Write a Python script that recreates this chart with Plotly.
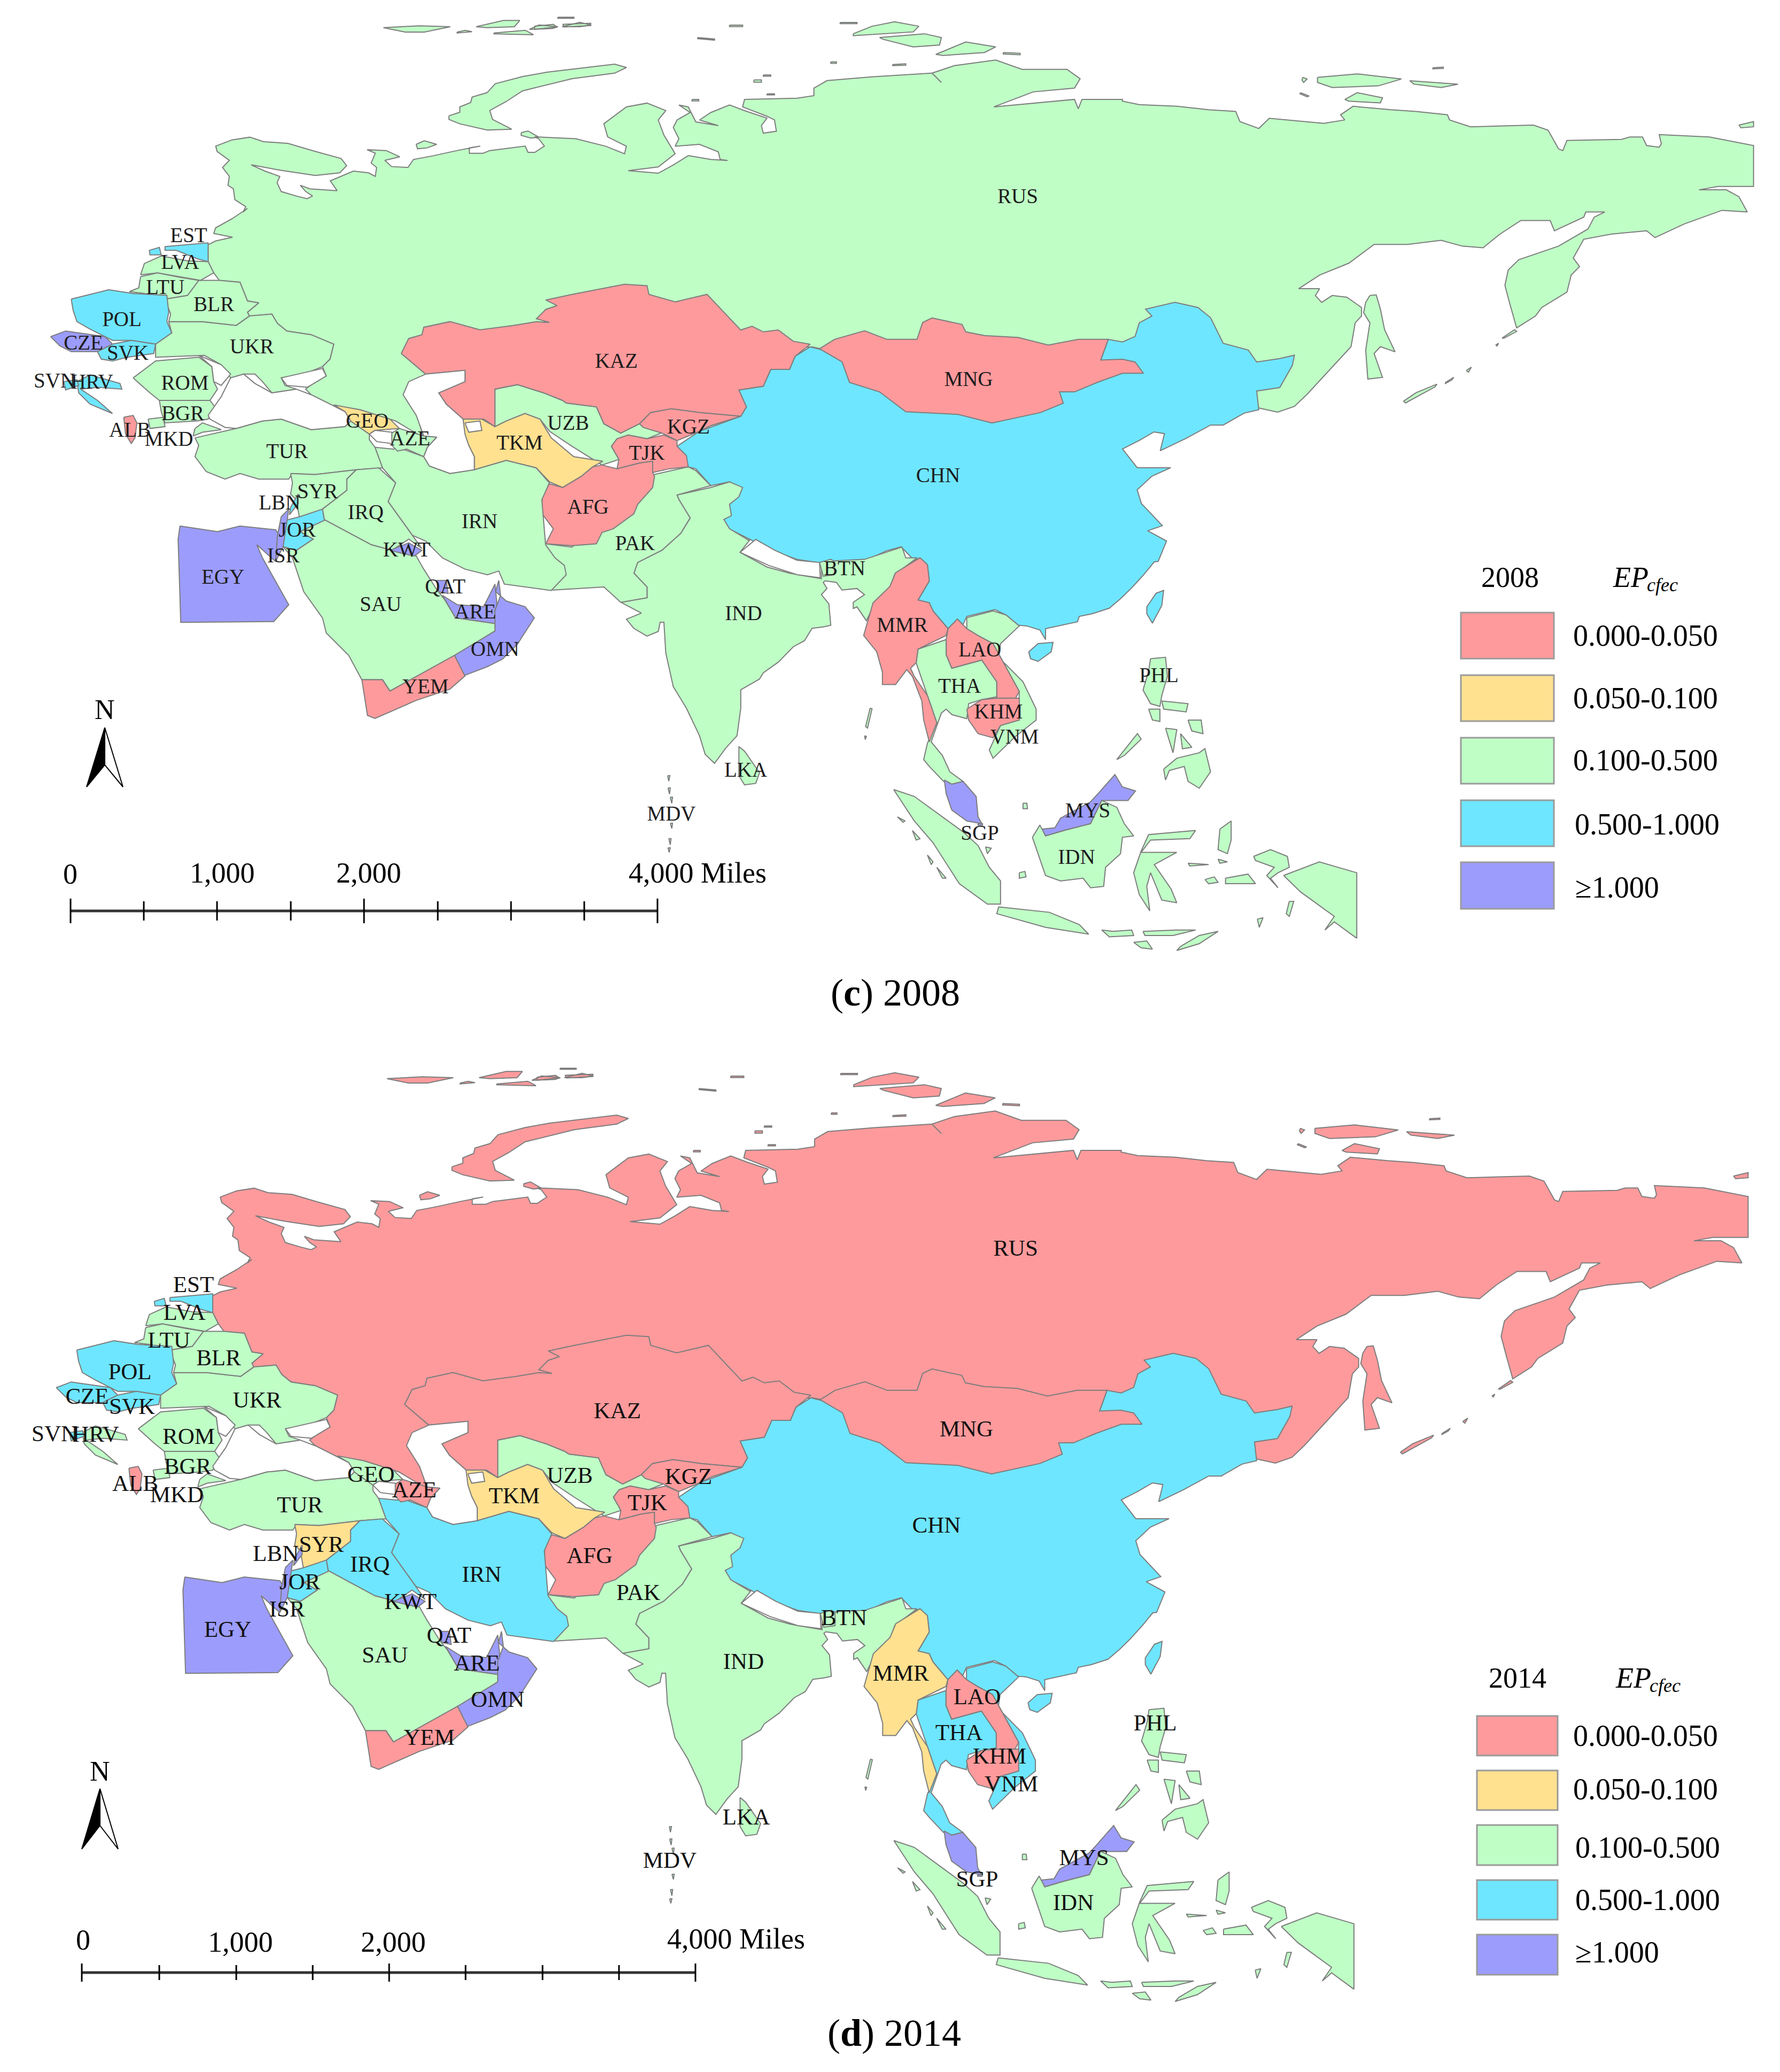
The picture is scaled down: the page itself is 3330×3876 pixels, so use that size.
import plotly.graph_objects as go

# crops the outlines were read from: left, top, x scale, y scale
W = (0, 300, .7015, .7015)
N = (1000, 0, .7015, .7015)
E = (2100, 100, .7844, .6378)
S = (1000, 900, .7015, .574)
A = (1500, 1000, .7015, .5102)
K = (350, 0, .5102, .3333)

def tr(view, *v):
    return [(view[0] + x * view[2], view[1] + y * view[3]) for x, y in zip(v[0::2], v[1::2])]

# class of each country, 0 lowest to 4 highest
CODES = ["RUS","CHN","IND","PAK","UZB","TKM","KAZ","KGZ","TJK","AFG","MNG","IRN","TUR","SYR","IRQ","SAU","EGY","JOR",
         "ISR","LBN","KWT","QAT","ARE","OMN","YEM","GEO","AZE","UKR","BLR","EST","LVA","LTU","POL","CZE","SVK","ROM",
         "BGR","MKD","ALB","HRV","SVN","THA","MMR","VNM","LAO","KHM","MYS","IDN","PHL","LKA","BTN","MDV","SGP"]
CLASS_2008 = [2,3,2,2,2,1,0,0,0,0,0,2,2,2,2,2,4,3,4,3,4,4,4,4,0,1,2,2,2,3,2,2,3,4,3,2,2,2,0,3,3,2,0,2,0,0,4,2,2,2,2,2,4]
CLASS_2014 = [0,3,2,2,2,1,0,0,0,0,0,3,2,1,3,2,4,3,4,4,4,4,4,4,0,2,0,2,2,3,2,2,3,3,3,2,2,2,0,2,3,3,1,3,0,0,4,2,2,2,2,2,4]

LABEL_X_2008 = [1904,1755,1391,1188,1063,972,1153,1288,1210,1100,1812,897,537,594,684,712,417,556,530,523,761,833,889,926,796,687,767,471,400,353,337,309,228,156,239,346,342,316,243,172,102,1795,1688,1898,1833,1868,2035,2014,2168,1395,1580,1256,1833]
LABEL_Y_2008 = [370,892,1150,1019,794,831,678,801,850,951,712,978,847,922,961,1133,1082,994,1042,943,1031,1100,1147,1217,1287,790,823,651,572,443,493,540,600,644,663,719,776,824,807,717,715,1286,1172,1381,1218,1334,1519,1606,1266,1443,1066,1525,1561]
LABEL_X_2014 = [1900,1752,1391,1194,1066,962,1155,1288,1211,1103,1808,901,561,601,692,720,426,561,537,516,768,840,892,931,803,694,775,481,409,362,345,316,243,163,247,353,351,331,253,179,102,1794,1685,1892,1828,1870,2028,2008,2161,1396,1579,1253,1828]
LABEL_Y_2014 = [2338,2856,3111,2982,2763,2801,2642,2765,2814,2913,2676,2948,2818,2892,2929,3099,3051,2962,3013,2909,2999,3062,3114,3182,3253,2761,2790,2622,2543,2406,2458,2510,2569,2615,2634,2690,2746,2799,2778,2686,2685,3244,3133,3340,3177,3288,3478,3562,3226,3402,3029,3483,3518]

LEGEND_LABELS = ["0.000-0.050", "0.050-0.100", "0.100-0.500", "0.500-1.000", "\u22651.000"]
COLORS = ["#FF9A9C", "#FFE190", "#BFFFC6", "#6EE6FF", "#9C9CFC"]

# legend boxes and texts, one list per panel
BOX_TOP_2008 = [1146, 1263, 1380, 1497, 1613]
BOX_BOTTOM_2008 = [1232, 1349, 1466, 1583, 1700]
TEXT_X_2008 = [2941, 2941, 2941, 2944, 2945]
TEXT_Y_2008 = [1189, 1306, 1422, 1542, 1660]
BOX_TOP_2014 = [3210, 3312, 3414, 3517, 3619]
BOX_BOTTOM_2014 = [3284, 3386, 3489, 3591, 3694]
TEXT_X_2014 = [2941, 2941, 2945, 2945, 2945]
TEXT_Y_2014 = [3247, 3347, 3456, 3554, 3652]

# scale bars, miles labels
SCALE_LABELS = ["0", "1,000", "2,000"]
SCALE_X_2008 = [131, 416, 690]
SCALE_Y_2008 = [1635, 1633, 1633]
SCALE_X_2014 = [155, 450, 736]
SCALE_Y_2014 = [3629, 3633, 3633]
TICKS_2008 = [132, 269, 406, 544, 681, 819, 956, 1093, 1230]
TICKS_2014 = [153, 298, 442, 585, 728, 871, 1015, 1158, 1301]

RUS_MAIN = (
    tr(E, 325,1040, 370,1052, 410,1035, 440,1000, 500,920, 545,860, 555,790, 570,770, 570,745, 535,715, 500,710, 475,730,
       460,710, 470,690, 420,690, 470,650, 540,615, 600,560, 680,560, 760,548, 810,565, 860,570, 880,550, 900,530, 950,490,
       1020,490, 1030,520, 1100,480, 1105,465, 1150,465, 1125,480, 1110,515, 1040,565, 945,605, 920,635, 912,680, 925,740,
       940,805, 985,770, 1000,745, 1060,700, 1070,650, 1090,625, 1075,600, 1100,545, 1165,530, 1250,520, 1270,540, 1340,500,
       1430,460, 1490,465, 1470,420, 1440,400, 1375,400, 1420,390, 1505,390, 1505,270, 1400,245, 1280,238, 1285,265, 1280,275,
       1250,270, 1240,245, 1210,245, 1190,252, 1060,255, 1050,285, 1040,280, 1015,225, 980,210, 830,215, 780,195, 775,180,
       700,170, 640,165, 550,155, 520,180, 530,195, 480,205, 350,190, 325,220, 280,200, 270,170, 205,165, 130,155, 40,150, 0,140)
    + tr(N, 1568,265, 1460,265, 1450,290, 1440,265, 1225,285, 1330,245, 1440,235, 1455,210, 1420,185, 1300,185, 1230,160,
         1120,175, 1060,195, 1085,220, 1060,195, 900,205, 780,215, 745,235, 745,255, 700,262, 560,265, 555,285, 620,310, 640,320,
         645,350, 610,355, 605,335, 620,315, 560,295, 520,280, 470,300, 440,320, 490,335, 430,325, 410,285, 385,280, 415,300,
         380,320, 370,340, 385,370, 375,390, 440,385, 490,405, 495,425, 515,428, 470,425, 410,415, 370,440, 330,462, 250,455,
         330,445, 375,410, 345,360, 330,320, 350,295, 300,275, 245,285, 185,330, 195,365, 245,390, 240,410, 190,390, 110,370, 0,365)
    + tr(K, 1290,780, 1310,820, 1275,855, 1250,855, 1240,820, 1110,845, 1085,860, 1035,860, 1035,830, 1075,820, 990,845, 900,875,
         830,895, 810,940, 750,935, 725,900, 780,880, 730,845, 660,840, 690,860, 675,915, 695,940, 690,990, 665,970, 610,960,
         525,1015, 550,1070, 450,1060, 415,1040, 435,1075, 460,1100, 440,1115, 400,1100, 345,1075, 330,1025, 340,990, 285,960,
         235,925, 340,955, 470,985, 560,970, 585,930, 565,890, 470,850, 370,805, 280,795, 230,770, 165,785, 105,820, 110,850,
         155,900, 130,940, 155,990, 150,1040, 170,1060, 175,1120, 215,1160, 205,1190)
    + tr(W, 660,128, 620,155, 575,180, 570,195, 620,205, 575,215, 555,225, 555,270, 570,300, 585,320, 640,325, 660,375, 690,380,
         660,405, 665,415, 725,410, 740,435, 765,455, 830,465, 890,490, 880,530, 860,550, 870,575, 840,590, 815,610, 830,625,
         890,655, 960,665, 1055,695, 1130,740, 1100,640, 1075,625, 1300,560)
    + tr(N, 200,950, 740,925, 1100,1000)
    + tr(E, 100,850, 200,900, 250,950, 300,1000)
)
RUS_NOVAYA = (
    tr(K, 960,650, 1000,630, 1000,600, 1040,575, 1045,545, 1100,520, 1130,470, 1230,430, 1320,405, 1568,360)
    + tr(N, 245,180, 214,195, 100,210, 0,235)
    + tr(K, 1230,510, 1170,570, 1110,620, 1120,670, 1190,725, 1100,730, 1000,695, 960,670)
)
RUS_ISLES = [
    RUS_NOVAYA,
    tr(K, 1225,745, 1250,735, 1290,770, 1260,775, 1225,760),
    tr(K, 840,810, 870,790, 915,810, 880,830, 845,835),
    tr(K, 720,155, 850,145, 965,150, 870,180, 800,180),
    tr(K, 990,180, 1020,170, 1045,178, 990,185),
    tr(K, 1060,150, 1160,115, 1220,115, 1200,150, 1100,155),
    tr(K, 1125,185, 1240,170, 1270,195, 1125,190),
    tr(K, 1255,165, 1290,140, 1360,150, 1340,160),
    tr(K, 1375,150, 1440,125, 1480,140, 1440,150),
    tr(N, 0,70, 50,65, 60,72, 0,78),
    tr(N, 75,65, 150,62, 150,68, 80,72),
    tr(N, 62,46, 105,46, 105,49, 62,49),
    tr(N, 520,67, 555,67, 555,71, 520,71),
    tr(N, 435,100, 480,104, 480,107, 435,103),
    tr(N, 850,90, 900,70, 960,58, 1025,70, 1010,85, 930,90, 850,95),
    tr(N, 920,100, 1040,90, 1085,100, 1080,120, 1010,125, 930,105),
    tr(N, 1070,145, 1150,112, 1230,125, 1200,140, 1090,148),
    tr(N, 1250,140, 1295,142, 1295,146, 1250,144),
    tr(N, 815,60, 860,60, 860,63, 815,63),
    tr(N, 790,165, 805,165, 805,169, 790,169),
    tr(N, 955,172, 990,170, 990,174, 955,175),
    tr(N, 585,213, 605,213, 605,219, 585,219),
    tr(N, 610,200, 630,200, 630,203, 610,203),
    tr(N, 620,250, 640,250, 640,253, 620,253),
    tr(N, 420,265, 438,265, 438,269, 420,269),
    tr(E, 430,70, 440,75, 432,85, 428,78),
    tr(E, 465,70, 560,60, 665,75, 610,95, 500,100, 465,85),
    tr(E, 685,80, 800,90, 760,100, 695,90),
    tr(E, 530,135, 560,115, 620,130, 615,145, 540,140),
    tr(E, 425,115, 445,125, 440,127, 423,118),
    tr(E, 740,42, 765,40, 765,44, 740,45),
    tr(E, 1470,210, 1505,200, 1505,215, 1475,218),
    tr(E, 590,710, 605,708, 615,750, 625,810, 650,875, 615,860, 600,880, 620,950, 585,955, 580,870, 590,790, 575,760, 580,730),
    tr(E, 905,835, 935,810, 940,815, 910,835),
    tr(E, 890,855, 897,850, 893,858),
    tr(E, 670,1020, 700,995, 750,970, 745,978, 675,1025),
    tr(E, 770,965, 790,950, 785,958, 770,968),
    tr(E, 820,930, 832,920, 825,935),
]

CHN_MAIN = (
    tr(N, 380,1190, 440,1150, 550,1110, 565,1085, 545,1040, 610,1030, 630,985, 680,985, 695,950, 735,925, 755,930, 1000,1000,
       1510,960, 1530,905, 1568,912)
    + tr(E, 30,830, 40,790, 70,770, 55,750, 125,730, 180,745, 210,775, 240,850, 300,870, 320,905, 375,895, 410,885, 405,915,
         375,980, 320,990, 325,1045, 290,1055, 240,1090, 210,1090, 150,1130, 90,1165, 100,1115, 75,1110, 40,1135, 0,1160,
         35,1215, 115,1215, 70,1240, 35,1280, 45,1320, 95,1385, 60,1400, 90,1420, 105,1430, 85,1490)
    + tr(A, 940,100, 910,150, 880,195, 850,235, 820,270, 775,290, 740,300, 735,320, 650,345, 650,385, 635,350, 600,335, 575,332,
         545,295, 515,275, 440,300, 430,330, 415,310, 390,345, 350,280, 340,250, 310,240, 340,170, 335,110, 315,85, 300,95,
         265,45, 225,60, 170,95, 100,115)
    + tr(S, 700,255, 620,220, 575,190, 510,150, 500,120, 520,85, 515,40, 550,35)
    + tr(N, 520,1285, 470,1295, 430,1250, 410,1245)
)
CHN_TAIWAN = tr(A, 920,265, 945,215, 965,205, 960,260, 935,325, 920,290)
CHN_HAINAN = tr(A, 605,430, 630,400, 670,395, 665,430, 630,465, 610,455)

KAZ_MAIN = (
    tr(W, 1070,515, 1090,475, 1125,465, 1130,445, 1200,430, 1280,452, 1370,440, 1430,430)
    + tr(N, 40,860, 5,850, 30,825, 60,815, 30,800, 100,785, 240,758, 300,762, 305,785, 375,805, 460,785, 550,880, 580,870, 610,885,
         650,880, 690,910, 735,918, 695,950, 680,985, 630,985, 610,1030, 545,1040, 565,1085, 550,1110, 440,1100, 365,1090, 310,1100,
         280,1130, 230,1155, 185,1130, 165,1085, 85,1075)
    + tr(W, 1500,640, 1450,620, 1380,598, 1320,610, 1320,710, 1290,690, 1235,690, 1190,650, 1170,620, 1240,590, 1240,560, 1135,570)
)
MNG_MAIN = (
    tr(N, 760,930, 800,905, 880,882, 940,905, 1020,905, 1035,860, 1060,848, 1140,865, 1150,885, 1200,895, 1290,900, 1370,920,
       1450,905, 1530,905, 1510,960, 1568,958)
    + tr(E, 30,905, 50,938, 0,938)
    + tr(N, 1500,1020, 1440,1045, 1400,1045, 1410,1075, 1350,1100, 1220,1128, 1130,1105, 990,1098, 920,1045, 840,1020, 820,965)
)
UZB_MAIN = (
    tr(W, 1320,610, 1380,598, 1450,620, 1500,640)
    + tr(N, 85,1075, 165,1085, 185,1130, 230,1155, 280,1130, 310,1125, 350,1150, 300,1170, 250,1160, 220,1170, 205,1190, 225,1225, 180,1240, 100,1190, 40,1150)
    + tr(W, 1440,690, 1400,675, 1350,695, 1320,710)
)
TKM_MAIN = (
    tr(W, 1235,690, 1285,690, 1320,710, 1350,695, 1400,675, 1440,690, 1470,740, 1530,790)
    + tr(N, 182,1230, 155,1245, 125,1270, 75,1300, 40,1285)
    + tr(W, 1430,820, 1350,800, 1265,825, 1265,790, 1250,760, 1235,740)
)
KGZ_MAIN = tr(N, 280,1130, 310,1100, 365,1090, 440,1100, 550,1110, 470,1135, 440,1150, 380,1175, 340,1155, 290,1140)
TJK_MAIN = tr(N, 205,1190, 220,1170, 250,1160, 300,1170, 345,1160, 380,1175, 380,1190, 405,1215, 410,1245, 360,1250, 315,1260, 315,1230, 280,1235, 220,1250, 225,1225)
AFG_MAIN = tr(N, 180,1240, 220,1250, 280,1235, 315,1230, 315,1260, 320,1270, 315,1300, 275,1345, 265,1370, 210,1410, 180,1420, 165,1450, 100,1455, 30,1450, 50,1410, 20,1370, 20,1320, 40,1290, 75,1300, 125,1270, 155,1245)
# runs on under Iran, which is painted later and gives the shared border
PAK_MAIN = (
    tr(N, 320,1265, 410,1245, 430,1255, 470,1295, 380,1320)
    + tr(S, 385,60, 415,120, 390,170, 340,225, 275,265, 265,300, 300,345, 300,380, 230,395, 185,345, 50,355)
    + tr(W, 1440,1140, 1400,1000)
    + tr(S, 35,205, 100,215, 200,100)
)
IND_MAIN = (
    tr(N, 380,1320, 470,1300, 520,1285, 555,1300, 545,1325, 520,1345, 525,1375, 505,1385, 520,1410, 570,1440)
    + tr(S, 575,190, 548,232, 620,280, 680,300, 765,318, 765,290, 800,260, 880,255, 980,215, 990,250, 1020,250, 960,305, 950,340, 915,400, 895,430,
         885,455, 860,410, 850,415, 850,395, 880,370, 860,350, 820,355, 805,330, 775,325, 770,330, 780,350, 765,370, 785,400, 790,470,
         770,475, 740,480, 720,520, 690,540, 650,590, 610,625, 600,645, 550,680, 550,740, 540,830, 510,870, 480,920, 455,890, 440,830,
         405,740, 370,670, 350,560, 345,460, 335,460, 330,490, 300,505, 265,480, 245,450, 285,430, 230,395, 300,380, 300,345, 265,300,
         275,265, 340,225, 390,170, 415,120, 385,60)
)
IND_ANDAMAN = tr(S, 895,740, 900,742, 888,805, 883,800)
IND_NICOBAR = tr(S, 880,830, 885,832, 882,842)
IRN_MAIN = tr(W, 1000,765, 1050,770, 1060,765, 1130,790, 1145,815, 1200,835, 1265,825, 1350,800, 1430,820, 1465,860, 1445,905, 1450,970, 1455,1025, 1480,1060, 1505,1080, 1510,1105, 1470,1147, 1345,1130, 1330,1095, 1300,1105, 1240,1090, 1180,1060, 1135,1015, 1100,1000, 1035,910, 1055,860, 1020,820)
TUR_MAIN = tr(W, 520,740, 600,722, 630,715, 700,695, 750,690, 830,718, 920,710, 935,695, 985,730, 985,745, 1000,765, 1020,820, 950,825, 840,838, 780,835, 770,850, 690,850, 640,835, 600,850, 550,830, 520,790, 530,760)
TUR_THRACE = tr(W, 520,715, 540,700, 590,718, 540,725, 515,735)
SYR_MAIN = tr(W, 775,835, 840,838, 950,825, 925,850, 925,880, 860,930, 800,960, 790,905, 775,890, 780,860)
IRQ_MAIN = tr(W, 860,930, 925,880, 925,850, 950,825, 1010,820, 1055,860, 1035,910, 1100,1000, 1125,1035, 1090,1010, 1045,1040, 990,1025, 865,958)
SAU_MAIN = tr(W, 865,958, 990,1025, 1045,1040, 1110,1055, 1130,1090, 1165,1145, 1185,1170, 1215,1220, 1320,1235, 1320,1255, 1215,1320, 1040,1415, 1020,1385, 965,1385, 930,1320, 870,1260, 860,1220, 810,1150, 780,1060, 755,1030, 790,1040, 835,1010, 800,990)
EGY_MAIN = tr(W, 480,975, 580,990, 640,975, 735,985, 745,1000, 735,1070, 685,1025, 700,1060, 770,1185, 730,1230, 482,1232, 475,1010)
JOR_MAIN = tr(W, 860,930, 865,960, 800,990, 835,1010, 790,1040, 755,1030, 760,960, 800,950)
ISR_MAIN = tr(W, 750,950, 770,930, 765,965, 755,1030, 735,1070, 740,1000)
LBN_MAIN = tr(W, 775,925, 795,890, 795,915, 772,945)
KWT_MAIN = tr(W, 1040,1040, 1090,1020, 1125,1040, 1105,1055, 1080,1050)
QAT_MAIN = tr(W, 1165,1120, 1190,1120, 1195,1155, 1170,1150)
ARE_MAIN = tr(W, 1180,1160, 1220,1185, 1290,1190, 1320,1130, 1325,1180, 1320,1235, 1215,1220)
OMN_MAIN = tr(W, 1330,1120, 1322,1150, 1350,1175, 1400,1190, 1425,1220, 1380,1290, 1340,1330, 1300,1350, 1235,1375, 1212,1320, 1320,1255, 1320,1200, 1335,1160)
YEM_MAIN = tr(W, 1212,1320, 1240,1375, 1200,1410, 1110,1440, 1000,1488, 980,1480, 965,1385, 1020,1385, 1040,1415)
GEO_MAIN = tr(W, 890,652, 960,665, 1040,690, 1065,715, 1000,720, 985,730, 935,695, 920,670)
AZE_MAIN = tr(W, 1040,730, 1065,715, 1130,735, 1165,738, 1140,765, 1130,790, 1085,770, 1060,775, 1045,760)
UKR_MAIN = tr(W, 450,430, 540,430, 630,440, 665,415, 725,410, 740,435, 765,455, 830,465, 890,490, 880,530, 860,550, 810,570, 750,580, 760,600, 790,610, 725,620, 700,590, 680,570, 650,570, 615,580, 590,545, 545,520, 415,525, 415,490, 458,460)
BLR_MAIN = tr(W, 440,370, 500,360, 530,320, 585,320, 640,325, 660,375, 690,380, 660,405, 665,415, 630,440, 540,430, 450,430, 455,410, 445,385)
EST_MAIN = tr(W, 440,230, 555,220, 555,270, 525,262, 470,240, 440,240)
EST_ISLE = tr(W, 398,240, 425,232, 430,252, 400,252)
LVA_MAIN = tr(W, 375,305, 385,275, 430,255, 500,268, 555,270, 570,300, 535,320, 480,310, 420,300)
LTU_MAIN = tr(W, 375,310, 420,300, 480,312, 530,320, 500,360, 440,370, 385,355, 345,350, 370,340)
POL_MAIN = tr(W, 190,370, 290,345, 355,355, 445,360, 450,405, 445,430, 458,460, 415,490, 350,480, 300,480, 240,450, 205,430, 195,400)
CZE_MAIN = tr(W, 135,470, 175,455, 280,470, 300,490, 260,510, 190,510, 160,495)
SVK_MAIN = tr(W, 260,510, 300,490, 350,480, 415,490, 410,515, 340,525, 300,535, 270,530)
ROM_MAIN = tr(W, 355,580, 415,535, 530,525, 565,550, 570,590, 580,610, 560,640, 445,640, 425,640, 400,620)
BGR_MAIN = tr(W, 425,640, 560,640, 575,660, 555,690, 525,695, 440,700, 430,670)
MKD_MAIN = tr(W, 395,690, 435,685, 440,710, 400,715)
ALB_MAIN = tr(W, 330,685, 355,680, 365,700, 360,740, 350,755, 335,730)
HRV_MAIN = tr(W, 205,590, 240,572, 320,595, 325,610, 260,605, 215,610, 260,640, 300,675, 240,650, 210,620)
SVN_MAIN = tr(W, 170,590, 205,585, 210,600, 175,612)
THA_MAIN = tr(A, 310,420, 305,470, 335,590, 360,690, 335,765, 325,825, 340,850, 378,905, 410,925, 430,905, 395,870, 375,810, 345,760, 372,655, 385,640, 400,660, 440,675, 445,620, 480,605, 520,595, 520,540, 480,460, 400,490, 385,440, 385,385)
MMR_MAIN = tr(A, 315,85, 335,110, 340,170, 310,240, 340,250, 350,280, 390,345, 385,370, 310,420, 305,470, 290,490, 300,520, 335,590, 360,690, 340,760, 325,680, 320,610, 295,520, 280,495, 250,550, 215,550, 215,505, 200,430, 165,370, 190,250, 235,190, 250,140)
VNM_MAIN = tr(A, 440,305, 510,280, 545,295, 580,335, 530,400, 525,450, 590,540, 625,640, 625,680, 570,740, 510,820, 500,790, 530,700, 578,680, 580,575, 530,450, 510,400, 470,370, 440,345)
LAO_MAIN = tr(A, 390,345, 415,310, 440,345, 470,370, 510,400, 530,450, 580,575, 570,600, 520,610, 520,540, 480,460, 400,490, 385,440, 385,385)
KHM_MAIN = tr(A, 440,640, 480,605, 520,600, 580,600, 580,680, 530,700, 510,745, 470,730, 445,680)
MYS_PENINSULA = tr(A, 380,900, 400,915, 430,905, 465,960, 470,1035, 480,1060, 440,1050, 400,1010, 385,950)
MYS_BORNEO = tr(A, 640,1080, 675,1075, 690,1040, 770,980, 790,950, 835,880, 855,925, 890,940, 870,975, 800,975, 770,1060, 700,1085, 650,1105)
IDN_ISLES = [
    tr(A, 615,1110, 635,1065, 650,1105, 700,1085, 770,1060, 800,975, 840,1000, 860,1060, 885,1105, 855,1110, 850,1170, 810,1220, 805,1290, 770,1295, 750,1260, 690,1270, 650,1250, 630,1170),
    tr(A, 245,935, 300,960, 380,1040, 430,1090, 470,1140, 500,1220, 530,1270, 530,1355, 495,1355, 420,1280, 350,1130, 300,1050),
    tr(A, 525,1365, 660,1385, 740,1430, 765,1465, 650,1440, 560,1405, 520,1390),
    tr(A, 905,1160, 925,1100, 1050,1085, 1035,1115, 930,1120, 905,1165, 1000,1165, 940,1210, 985,1300, 1000,1350, 960,1340, 930,1240, 920,1290, 928,1380, 900,1320, 885,1240),
    tr(A, 1285,1250, 1380,1200, 1480,1240, 1480,1480, 1420,1420, 1395,1450, 1420,1400, 1330,1310),
    tr(A, 1115,1080, 1145,1050, 1145,1120, 1135,1170, 1110,1155),
    tr(A, 1010,1510, 1060,1470, 1110,1455, 1060,1500, 1000,1525),
    tr(A, 910,1455, 1000,1450, 1050,1450, 990,1470, 915,1470),
    tr(A, 800,1450, 830,1455, 880,1450, 885,1470, 820,1475),
    tr(A, 885,1495, 920,1490, 935,1520, 905,1515),
    tr(A, 1130,1260, 1190,1245, 1210,1280, 1130,1280),
    tr(A, 1075,1265, 1100,1255, 1110,1275, 1085,1280),
    tr(A, 1205,1180, 1250,1155, 1295,1180, 1300,1220, 1270,1240, 1250,1260, 1270,1295, 1240,1250, 1260,1220, 1210,1195),
    tr(A, 295,1085, 315,1115, 305,1120),
    tr(A, 335,1175, 350,1200, 345,1210),
    tr(A, 360,1220, 385,1260, 375,1260),
    tr(A, 255,1035, 275,1050, 270,1055),
    tr(A, 580,1240, 595,1235, 598,1255, 580,1260),
    tr(A, 490,1145, 505,1150, 495,1170),
    tr(A, 590,985, 600,985, 602,1005, 590,1005),
    tr(A, 1300,1345, 1312,1345, 1300,1400, 1292,1390),
    tr(A, 1215,1410, 1230,1405, 1220,1440),
    tr(A, 1030,1205, 1085,1210, 1035,1215),
    tr(A, 1110,1190, 1135,1200, 1115,1205),
]
PHL_ISLES = [
    tr(A, 930,455, 970,450, 975,520, 960,590, 955,630, 930,620, 910,570, 925,500),
    tr(A, 925,640, 955,640, 955,685, 935,680),
    tr(A, 965,860, 1000,820, 1060,800, 1075,785, 1090,870, 1060,930, 1030,905, 1020,850, 980,865, 970,900),
    tr(A, 840,825, 895,730, 905,750, 860,810),
    tr(A, 970,710, 1000,715, 990,800, 975,730),
    tr(A, 1030,680, 1065,680, 1070,730, 1040,720),
    tr(A, 1010,730, 1040,780, 1015,785),
    tr(A, 960,610, 1030,620, 1025,650, 965,640),
]
LKA_MAIN = tr(S, 545,865, 560,880, 600,950, 590,985, 560,990, 545,960, 545,900)
BTN_MAIN = tr(S, 760,265, 790,255, 800,262, 800,305, 770,310)
MDV_ATOLLS = [
    tr(S, 355,960, 361,960, 358,978),
    tr(S, 356,1000, 362,1000, 360,1020),
    tr(S, 362,1030, 368,1030, 366,1050),
    tr(S, 362,1115, 368,1115, 366,1132),
    tr(S, 358,1165, 364,1165, 362,1185),
    tr(S, 356,1195, 362,1195, 359,1210),
]
SGP_MAIN = tr(A, 470,1060, 482,1060, 482,1066, 470,1066)

# seas and countries outside the study area, painted over everything else
GAP_CASPIAN = tr(W, 1135,570, 1240,560, 1240,590, 1170,620, 1190,650, 1235,690, 1240,730, 1250,760, 1265,790, 1265,825, 1200,835, 1145,815, 1130,790, 1140,765, 1165,738, 1130,735, 1110,680, 1075,625, 1090,590)
GAP_GARABOGAZ = tr(W, 1240,700, 1280,695, 1285,720, 1250,725)
GAP_BLACK = tr(W, 555,680, 590,630, 615,580, 650,570, 680,595, 725,620, 790,610, 830,625, 890,655, 920,670, 935,695, 920,710, 830,718, 750,690, 700,695, 630,715, 600,712, 560,690)
GAP_AZOV = tr(W, 750,580, 860,555, 870,575, 820,605, 765,600)
GAP_MOLDOVA = tr(W, 530,520, 590,545, 615,570, 590,600, 570,590, 565,550)
GAP_ARMENIA = tr(W, 985,730, 1000,720, 1045,725, 1045,755, 1005,750)
GAP_NEPAL = tr(S, 548,232, 590,190, 640,225, 700,258, 760,265, 762,315, 700,305, 625,275)

OUTLINES = {
    "RUS": [RUS_MAIN] + RUS_ISLES, "CHN": [CHN_MAIN, CHN_TAIWAN, CHN_HAINAN], "IND": [IND_MAIN, IND_ANDAMAN, IND_NICOBAR],
    "PAK": [PAK_MAIN], "UZB": [UZB_MAIN], "TKM": [TKM_MAIN], "KAZ": [KAZ_MAIN], "KGZ": [KGZ_MAIN], "TJK": [TJK_MAIN],
    "AFG": [AFG_MAIN], "MNG": [MNG_MAIN], "IRN": [IRN_MAIN], "TUR": [TUR_MAIN, TUR_THRACE], "SYR": [SYR_MAIN], "IRQ": [IRQ_MAIN],
    "SAU": [SAU_MAIN], "EGY": [EGY_MAIN], "JOR": [JOR_MAIN], "ISR": [ISR_MAIN], "LBN": [LBN_MAIN], "KWT": [KWT_MAIN], "QAT": [QAT_MAIN],
    "ARE": [ARE_MAIN], "OMN": [OMN_MAIN], "YEM": [YEM_MAIN], "GEO": [GEO_MAIN], "AZE": [AZE_MAIN], "UKR": [UKR_MAIN], "BLR": [BLR_MAIN],
    "EST": [EST_MAIN, EST_ISLE], "LVA": [LVA_MAIN], "LTU": [LTU_MAIN], "POL": [POL_MAIN], "CZE": [CZE_MAIN], "SVK": [SVK_MAIN],
    "ROM": [ROM_MAIN], "BGR": [BGR_MAIN], "MKD": [MKD_MAIN], "ALB": [ALB_MAIN], "HRV": [HRV_MAIN], "SVN": [SVN_MAIN], "THA": [THA_MAIN],
    "MMR": [MMR_MAIN], "VNM": [VNM_MAIN], "LAO": [LAO_MAIN], "KHM": [KHM_MAIN], "MYS": [MYS_PENINSULA, MYS_BORNEO], "IDN": IDN_ISLES,
    "PHL": PHL_ISLES, "LKA": [LKA_MAIN], "BTN": [BTN_MAIN], "MDV": MDV_ATOLLS, "SGP": [SGP_MAIN],
}
GAPS = [GAP_CASPIAN, GAP_GARABOGAZ, GAP_BLACK, GAP_AZOV, GAP_MOLDOVA, GAP_ARMENIA, GAP_NEPAL]

PAGE_W, PAGE_H = 3330, 3876
SPLIT = 1925  # page row where the second map starts
PAD = 8  # the page body margin pushes the plot this far right and down
SERIF = "Liberation Serif"
LINE = "#7d7d7d"


def rings(parts):
    xs, ys = [], []
    for part in parts:
        xs += [p[0] for p in part] + [part[0][0], None]
        ys += [p[1] for p in part] + [part[0][1], None]
    return xs, ys


fig = go.Figure()


def draw_map(classes, xa, ya):
    for code, cls in zip(CODES, classes):
        xs, ys = rings(OUTLINES[code])
        fig.add_trace(go.Scatter(x=xs, y=ys, mode="lines", fill="toself", fillcolor=COLORS[cls], name=code,
                                 line=dict(color=LINE, width=2), xaxis=xa, yaxis=ya, hoverinfo="name"))
    xs, ys = rings(GAPS)
    fig.add_trace(go.Scatter(x=xs, y=ys, mode="lines", fill="toself", fillcolor="white",
                             line=dict(color=LINE, width=2), xaxis=xa, yaxis=ya, hoverinfo="skip"))


draw_map(CLASS_2008, "x", "y")
draw_map(CLASS_2014, "x2", "y2")


def text_trace(xs, ys, labels, size, color="black"):
    fig.add_trace(go.Scatter(x=xs, y=ys, text=labels, mode="text", textposition="middle center",
                             textfont=dict(family=SERIF, size=size, color=color), xaxis="x3", yaxis="y3", hoverinfo="skip"))


text_trace(LABEL_X_2008, LABEL_Y_2008, CODES, 39, "#1c1c1c")
text_trace(LABEL_X_2014, LABEL_Y_2014, CODES, 43, "#111111")


def left_text(x, y, text, size=54, **font):
    fig.add_annotation(x=x, y=y, xref="x3", yref="y3", text=text, showarrow=False, xanchor="left", yanchor="middle",
                       font=dict(family=SERIF, size=size, color="black", **font))


def center_text(x, y, text, size=54):
    fig.add_annotation(x=x, y=y, xref="x3", yref="y3", text=text, showarrow=False, xanchor="center", yanchor="middle",
                       font=dict(family=SERIF, size=size, color="black"))


def draw_legend(x0, x1, tops, bottoms, tx, ty, year, year_x, ep_x, head_y):
    for i, color in enumerate(COLORS):
        fig.add_shape(type="rect", x0=x0, x1=x1, y0=tops[i], y1=bottoms[i], xref="x3", yref="y3",
                      fillcolor=color, line=dict(color="#9a9a9a", width=3))
        left_text(tx[i], ty[i], LEGEND_LABELS[i], 56)
    center_text(year_x, head_y, year)
    left_text(ep_x, head_y, "EP", 54, style="italic")
    left_text(ep_x + 64, head_y + 14, "cfec", 36, style="italic")


draw_legend(2733, 2907, BOX_TOP_2008, BOX_BOTTOM_2008, TEXT_X_2008, TEXT_Y_2008, "2008", 2825, 3015, 1080)
draw_legend(2763, 2914, BOX_TOP_2014, BOX_BOTTOM_2014, TEXT_X_2014, TEXT_Y_2014, "2014", 2839, 3020, 3139)


def draw_scale(ticks, bar_y, major, minor, lx, ly, miles_x, miles_y):
    fig.add_trace(go.Scatter(x=[ticks[0], ticks[-1]], y=[bar_y, bar_y], mode="lines", line=dict(color="#333333", width=5),
                             xaxis="x3", yaxis="y3", hoverinfo="skip"))
    xs, ys = [], []
    for i, t in enumerate(ticks):
        half = major if i % 4 == 0 else minor
        xs += [t, t, None]
        ys += [bar_y - half, bar_y + half, None]
    fig.add_trace(go.Scatter(x=xs, y=ys, mode="lines", line=dict(color="black", width=3), xaxis="x3", yaxis="y3", hoverinfo="skip"))
    for x, y, label in zip(lx, ly, SCALE_LABELS):
        center_text(x, y, label)
    left_text(miles_x, miles_y, "4,000 Miles")


draw_scale(TICKS_2008, 1704, 23, 18, SCALE_X_2008, SCALE_Y_2008, 1174, 1633)
draw_scale(TICKS_2014, 3690, 17, 14, SCALE_X_2014, SCALE_Y_2014, 1246, 3627)


def draw_north(x, y_letter, top, notch, bottom, half):
    center_text(x, y_letter, "N", 52)
    fig.add_trace(go.Scatter(x=[x, x, x - half, x], y=[top, notch, bottom, top], mode="lines", fill="toself", fillcolor="black",
                             line=dict(color="black", width=2), xaxis="x3", yaxis="y3", hoverinfo="skip"))
    fig.add_trace(go.Scatter(x=[x, x, x + half, x], y=[top, notch, bottom, top], mode="lines", fill="toself", fillcolor="white",
                             line=dict(color="black", width=2), xaxis="x3", yaxis="y3", hoverinfo="skip"))


draw_north(196, 1327, 1361, 1431, 1472, 34)
draw_north(187, 3313, 3346, 3415, 3459, 34)

# captions: bracket, bold letter, then the year
for left, cy, letter, letter_w, year in [(1552, 1857, "c", 32, "2008"), (1546, 3803, "d", 40, "2014")]:
    left_text(left, cy, "(", 72)
    left_text(left + 24, cy, letter, 72, weight="bold")
    left_text(left + 24 + letter_w, cy, ") " + year, 72)

hidden = dict(visible=False, fixedrange=True)
fig.update_layout(
    width=PAGE_W, height=PAGE_H, margin=dict(l=0, r=0, t=0, b=0), showlegend=False,
    paper_bgcolor="white", plot_bgcolor="rgba(0,0,0,0)",
    xaxis=dict(range=[PAD, PAGE_W + PAD], domain=[0, 1], anchor="y", **hidden),
    yaxis=dict(range=[SPLIT + PAD, PAD], domain=[1 - SPLIT / PAGE_H, 1], anchor="x", **hidden),
    # second map sits 1966 rows lower and is drawn a little narrower
    xaxis2=dict(range=[(PAD - 11.2) / .9935, (PAGE_W + PAD - 11.2) / .9935], domain=[0, 1], anchor="y2", **hidden),
    yaxis2=dict(range=[PAGE_H + PAD - 1966, SPLIT + PAD - 1966], domain=[0, 1 - SPLIT / PAGE_H], anchor="x2", **hidden),
    xaxis3=dict(range=[PAD, PAGE_W + PAD], domain=[0, 1], anchor="y3", **hidden),
    yaxis3=dict(range=[PAGE_H + PAD, PAD], domain=[0, 1], anchor="x3", **hidden),
)

fig.write_html("out.html")
